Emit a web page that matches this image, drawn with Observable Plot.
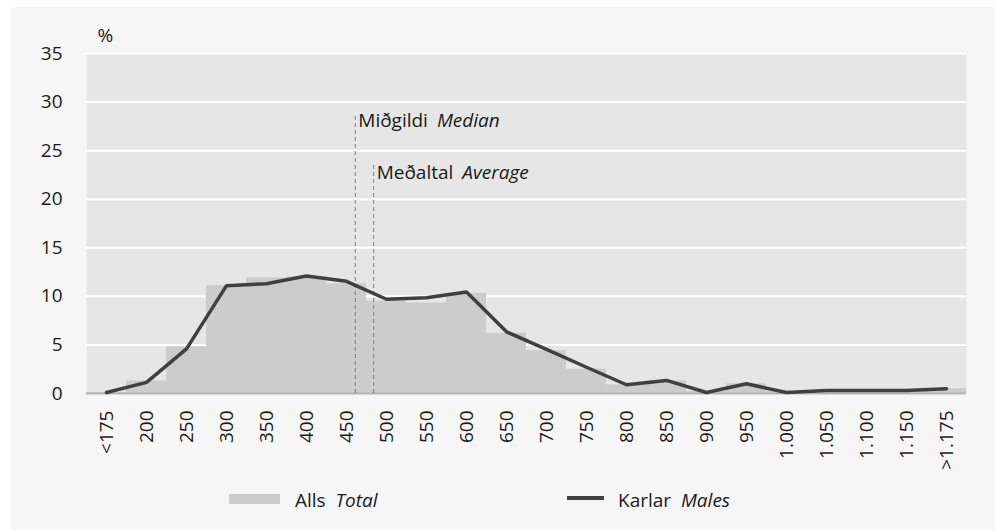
<!DOCTYPE html>
<html>
<head>
<meta charset="utf-8">
<script src="https://cdn.jsdelivr.net/npm/d3@7"></script>
<script src="https://cdn.jsdelivr.net/npm/@observablehq/plot@0.6"></script>
<style>
  html, body { margin: 0; padding: 0; background: #ffffff; width: 995px; height: 530px; overflow: hidden; }
  body { font-family: "Open Sans", sans-serif; color: #1a1a1a; }
  #panel { position: absolute; left: 11px; top: 7px; width: 984px; height: 523px; background: #f6f6f6; }
  #chart { position: absolute; left: 0; top: 0; }
  .leg { position: absolute; font-size: 19px; line-height: 20px; white-space: nowrap; }
  .sw { position: absolute; }
</style>
</head>
<body>
<div id="panel">
  <div id="chart"></div>
</div>
<div class="sw" style="left:229px; top:494px; width:51px; height:10px; background:#cccccc;"></div>
<div class="leg" style="left:295px; top:490px;">Alls&nbsp; <i>Total</i></div>
<div class="sw" style="left:567px; top:496px; width:37px; height:4px; background:#404040;"></div>
<div class="leg" style="left:618px; top:490px;">Karlar&nbsp; <i>Males</i></div>
<script>
const categories = ["<175","200","250","300","350","400","450","500","550","600","650","700","750","800","850","900","950","1.000","1.050","1.100","1.150",">1.175"];
const total = [0.1, 1.3, 4.8, 11.1, 11.9, 12.0, 11.3, 9.5, 9.3, 10.3, 6.2, 4.4, 2.5, 0.9, 1.3, 0.2, 1.0, 0.2, 0.3, 0.3, 0.3, 0.5];
const males = [0.1, 1.15, 4.6, 11.1, 11.3, 12.1, 11.55, 9.7, 9.85, 10.45, 6.35, 4.55, 2.7, 0.9, 1.35, 0.1, 1.0, 0.1, 0.3, 0.3, 0.3, 0.5];
const yTicks = [0, 5, 10, 15, 20, 25, 30, 35];
// median and average (thousand), placed on the category axis (bins of 50, "200" = index 1)
const refLabels = ["Miðgildi Median", "Meðaltal Average"];
const refValues = [461, 484];
const refTops = [28.8, 23.5];
const toPos = v => (v - 150) / 50;

const rows = categories.map((c, i) => ({i, cat: c, total: total[i], males: males[i]}));
const refs = refLabels.map((label, k) => ({label, pos: toPos(refValues[k]), top: refTops[k]}));

const plot = Plot.plot({
  width: 984,
  height: 470,
  marginLeft: 75,
  marginRight: 29,
  marginTop: 46,
  marginBottom: 84,
  style: {fontFamily: "Open Sans", fontSize: "19px", color: "#1a1a1a", background: "transparent", overflow: "visible"},
  x: {type: "linear", domain: [-0.5, categories.length - 0.5]},
  y: {domain: [0, 35]},
  marks: [
    Plot.frame({fill: "#e6e6e6", stroke: null}),
    Plot.gridY(yTicks, {stroke: "#ffffff", strokeOpacity: 1, strokeWidth: 2}),
    Plot.rectY(rows, {x1: d => d.i - 0.5, x2: d => d.i + 0.5, y: "total", fill: "#cccccc"}),
    Plot.ruleY([0], {stroke: "#b3b3b3", strokeWidth: 2}),
    Plot.ruleX(refs, {x: "pos", y1: 0, y2: "top", stroke: "#808080", strokeWidth: 1, strokeDasharray: "4,3"}),
    Plot.text(refs, {x: "pos", y: "top", text: "label", textAnchor: "start", lineAnchor: "top", dx: 3, dy: 0, fontSize: 19, fill: "#1a1a1a"}),
    Plot.lineY(rows, {x: "i", y: "males", stroke: "#404040", strokeWidth: 3.5, strokeLinejoin: "miter"}),
    Plot.axisY(yTicks, {tickSize: 0, tickPadding: 24, label: null, fontSize: 19}),
    Plot.axisX(d3.range(categories.length), {tickFormat: i => categories[i], tickRotate: -90, tickSize: 0, tickPadding: 17, label: null, fontSize: 19}),
    Plot.text(["%"], {frameAnchor: "top-left", dx: 11, dy: -18, textAnchor: "start", lineAnchor: "middle", fontSize: 19, fill: "#1a1a1a"})
  ]
});

d3.select(plot).selectAll("text").each(function() {
  const t = this.textContent;
  if (!refLabels.includes(t)) return;
  const k = t.indexOf(" ");
  const a = t.slice(0, k), b = t.slice(k + 1);
  const sel = d3.select(this);
  sel.text(null);
  sel.append("tspan").text(a);
  sel.append("tspan").attr("dx", 9).style("font-style", "italic").text(b);
});

document.getElementById("chart").appendChild(plot);
</script>
</body>
</html>
